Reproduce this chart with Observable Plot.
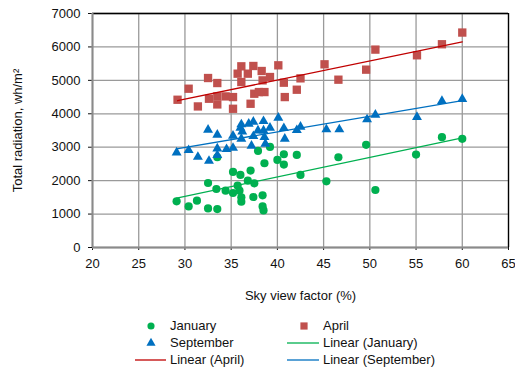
<!DOCTYPE html>
<html><head><meta charset="utf-8">
<script src="https://cdn.jsdelivr.net/npm/d3@7"></script>
<script src="https://cdn.jsdelivr.net/npm/@observablehq/plot@0.6"></script>
<style>
body{margin:0;background:#fff;font-family:"Liberation Sans",Arial,sans-serif;}
#wrap{position:relative;width:515px;height:369px;overflow:hidden;}
#wrap svg.plot{position:absolute;left:0;top:0;}
.lt{position:absolute;font-size:13px;line-height:16px;height:16px;color:#111;white-space:nowrap;}
.ls{position:absolute;}
</style></head><body><div id="wrap"></div>
<script>
// ---- data ----
const janX = [29.1,30.4,31.3,32.5,32.5,33.5,33.4,33.5,34.4,35.2,35.2,35.7,35.9,36.0,36.1,36.1,36.8,37.1,37.5,37.4,37.9,38.4,38.4,38.5,38.6,39.2,40.0,40.7,40.7,42.1,42.5,45.3,46.6,49.6,50.6,55.0,57.8,60.0];
const janY = [1380,1230,1400,1930,1170,1150,1750,2700,1700,2260,1630,1850,1700,2170,1500,1370,2000,2300,1920,1510,2890,1560,1230,1110,2520,3010,2620,2790,2480,2770,2170,1980,2700,3070,1720,2780,3300,3250];
const aprX = [29.2,30.4,31.4,32.5,32.6,33.5,33.5,33.5,34.4,35.2,35.2,35.7,36.1,36.1,36.8,37.1,37.4,37.5,38.0,38.3,38.4,38.6,39.2,40.1,40.7,40.8,42.1,42.5,45.1,46.6,49.6,50.6,55.1,57.8,60.0];
const aprY = [4420,4750,4220,5070,4450,4920,4520,4280,4520,4500,4150,5200,5420,4950,5200,4300,5430,4600,4650,5280,5000,4650,5100,5450,4930,4500,4720,5060,5480,5020,5320,5920,5750,6080,6430];
const sepX = [29.1,30.4,31.4,32.5,32.6,33.5,33.5,33.5,34.5,35.2,35.2,36.0,36.1,36.2,36.1,36.9,37.4,37.2,37.4,37.9,38.5,38.5,38.6,38.7,39.2,40.1,40.7,40.8,42.1,42.5,45.3,46.7,49.7,50.6,55.1,57.8,60.0];
const sepY = [2840,2910,2710,3520,2590,3370,2960,2760,2940,2980,3340,3580,3680,3470,3250,3700,3760,3040,3330,3500,3780,3500,3300,3100,3580,3880,3570,3250,3510,3610,3530,3530,3830,3970,3900,4380,4440];
const xTicks = [20,25,30,35,40,45,50,55,60,65];
const yTicks = [0,1000,2000,3000,4000,5000,6000,7000];
const seriesNames = ["January","April","September"];
const seriesColors = {January:"#00b050", April:"#c0504d", September:"#0070c0"};
const trendColors = {January:"#00b050", April:"#c00000", September:"#0070c0"};
const legendItems = [
  {label:"January", kind:"circle", key:"January", col:0, row:0},
  {label:"April", kind:"square", key:"April", col:1, row:0},
  {label:"September", kind:"triangle", key:"September", col:0, row:1},
  {label:"Linear (January)", kind:"line", key:"January", col:1, row:1},
  {label:"Linear (April)", kind:"line", key:"April", col:0, row:2},
  {label:"Linear (September)", kind:"line", key:"September", col:1, row:2}
];

const toRows = (xs, ys, s) => xs.map((x,i)=>({x, y:ys[i], s}));
const jan = toRows(janX, janY, "January");
const apr = toRows(aprX, aprY, "April");
const sep = toRows(sepX, sepY, "September");

const fontFam = '"Liberation Sans", Arial, sans-serif';
const plot = Plot.plot({
  width: 515,
  height: 310,
  marginTop: 13,
  marginLeft: 92,
  marginRight: 7,
  marginBottom: 63,
  style: {fontFamily: fontFam, fontSize: "13px", color:"#111", background:"transparent"},
  x: {domain:[20,65], ticks: xTicks, tickSize: 3, tickPadding: 8, label: "Sky view factor (%)", labelAnchor:"center", labelArrow:"none", labelOffset: 52},
  y: {domain:[0,7000], ticks: yTicks, tickSize: 4, tickPadding: 8, tickFormat: d3.format("d"), label: "Total radiation, wh/m²", labelAnchor:"center", labelArrow:"none", labelOffset: 80},
  marks: [
    Plot.gridX(xTicks, {stroke:"#9a9a9a", strokeOpacity:1, strokeWidth:1.3}),
    Plot.gridY(yTicks, {stroke:"#9a9a9a", strokeOpacity:1, strokeWidth:1.3}),
    Plot.ruleX([65], {stroke:"#000", strokeWidth:1.3}),
    Plot.ruleY([7000], {stroke:"#000", strokeWidth:1.3}),
    Plot.ruleX([20], {stroke:"#8a8a8a", strokeWidth:2}),
    Plot.ruleY([0], {stroke:"#8a8a8a", strokeWidth:2}),
    Plot.dot(jan, {x:"x", y:"y", symbol:"circle", r:4.1, fill: seriesColors.January, stroke:"none"}),
    Plot.dot(apr, {x:"x", y:"y", symbol:"square", r:4.7, fill: seriesColors.April, stroke:"none"}),
    Plot.dot(sep, {x:"x", y:"y", symbol:"triangle", r:3.7, fill: seriesColors.September, stroke:"none"}),
    Plot.linearRegressionY(jan, {x:"x", y:"y", stroke: trendColors.January, strokeWidth:1.3, ci:0}),
    Plot.linearRegressionY(apr, {x:"x", y:"y", stroke: trendColors.April, strokeWidth:1.3, ci:0}),
    Plot.linearRegressionY(sep, {x:"x", y:"y", stroke: trendColors.September, strokeWidth:1.3, ci:0})
  ]
});
plot.classList.add("plot");
const wrap = document.getElementById("wrap");
wrap.appendChild(plot);

// ---- legend below the chart ----
const colSym = [151, 304], colLine = [[135,166],[287,319]], colText = [170, 323];
const rowY = [326, 343, 360];
for (const it of legendItems) {
  const cy = rowY[it.row];
  const sym = document.createElementNS("http://www.w3.org/2000/svg","svg");
  sym.setAttribute("class","ls");
  const c = it.kind === "line" ? trendColors[it.key] : seriesColors[it.key];
  if (it.kind === "line") {
    const [a,b] = colLine[it.col];
    sym.setAttribute("width", b-a); sym.setAttribute("height", 6);
    sym.style.left = a+"px"; sym.style.top = (cy-3)+"px";
    sym.innerHTML = `<line x1="0" x2="${b-a}" y1="3" y2="3" stroke="${c}" stroke-width="1.3"/>`;
  } else {
    const sx = colSym[it.col];
    sym.setAttribute("width", 12); sym.setAttribute("height", 12);
    sym.style.left = (sx-6)+"px"; sym.style.top = (cy-6)+"px";
    const path = d3.symbol(it.kind === "circle" ? d3.symbolCircle : it.kind === "square" ? d3.symbolSquare : d3.symbolTriangle,
      it.kind === "circle" ? 40 : it.kind === "square" ? 52 : 36)();
    sym.innerHTML = `<path transform="translate(6,6)" d="${path}" fill="${c}"/>`;
  }
  wrap.appendChild(sym);
  const t = document.createElement("div");
  t.className = "lt";
  t.textContent = it.label;
  t.style.left = colText[it.col] + "px";
  t.style.top = (cy - 8) + "px";
  wrap.appendChild(t);
}
</script>
</body></html>
